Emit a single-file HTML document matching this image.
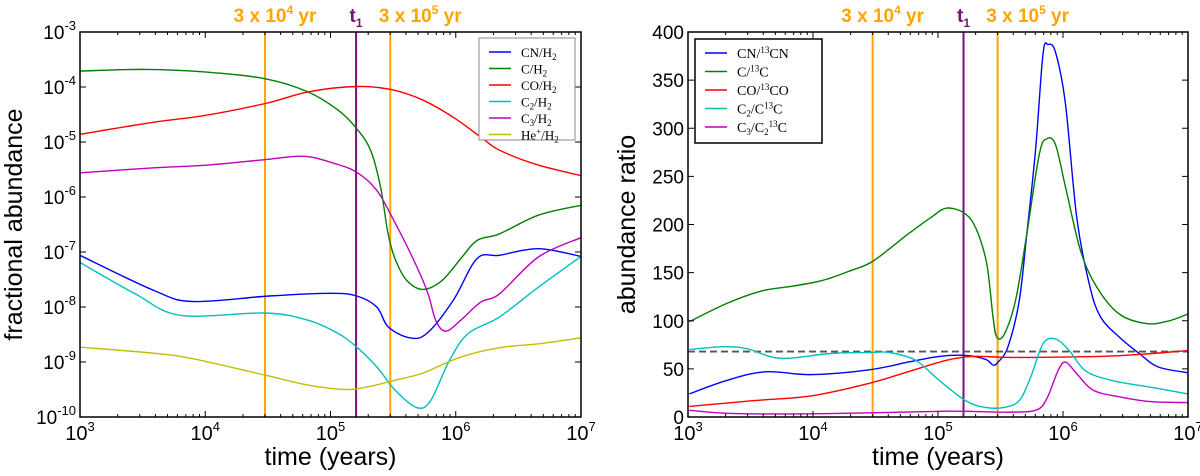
<!DOCTYPE html>
<html><head><meta charset="utf-8"><style>
body{margin:0;background:#fff;}
svg text{font-family:"Liberation Sans",sans-serif;}
.ser{font-family:"Liberation Serif",serif;}
</style></head><body>
<svg id="c" width="1200" height="471" xmlns="http://www.w3.org/2000/svg"></svg>
<script>
// ---- LEFT panel data (log10 time, log10 abundance)
const cnT=[3,3.59,3.9,4.51,5,5.21,5.37,5.46,5.63,5.77,5.98,6.17,6.35,6.66,7];
const cnV=[-7.06,-7.7,-7.9,-7.8,-7.75,-7.8,-8.0,-8.36,-8.56,-8.48,-7.88,-7.12,-7.06,-6.94,-7.08];
const cT=[3,3.53,4.02,4.48,4.82,5.06,5.21,5.32,5.40,5.46,5.52,5.61,5.74,5.89,6.04,6.17,6.35,6.66,7];
const cV=[-3.71,-3.68,-3.73,-3.85,-4.09,-4.42,-4.76,-5.15,-5.82,-6.67,-7.15,-7.52,-7.68,-7.52,-7.12,-6.79,-6.67,-6.33,-6.15];
const coT=[3,3.59,3.99,4.48,4.82,5.21,5.49,5.74,5.98,6.2,6.35,6.66,7];
const coV=[-4.86,-4.64,-4.52,-4.30,-4.09,-3.99,-4.05,-4.24,-4.55,-4.91,-5.15,-5.42,-5.61];
const c2T=[3,3.44,3.8,4.48,4.82,5.06,5.21,5.37,5.52,5.69,5.8,5.95,6.1,6.35,6.66,7];
const c2V=[-7.19,-7.76,-8.15,-8.11,-8.24,-8.48,-8.73,-9.09,-9.52,-9.83,-9.70,-8.97,-8.48,-8.18,-7.64,-7.08];
const c3T=[3,3.59,4.02,4.48,4.79,5.03,5.21,5.37,5.49,5.64,5.77,5.84,5.92,6.04,6.2,6.35,6.66,7];
const c3V=[-5.56,-5.47,-5.42,-5.32,-5.26,-5.39,-5.55,-5.88,-6.36,-7.03,-7.70,-8.24,-8.44,-8.24,-7.91,-7.76,-7.09,-6.74];
const heT=[3,3.59,3.9,4.48,4.82,5.12,5.3,5.52,5.74,6.04,6.35,6.66,7];
const heV=[-8.73,-8.84,-8.94,-9.24,-9.42,-9.50,-9.45,-9.33,-9.20,-8.91,-8.74,-8.67,-8.56];
// ---- RIGHT panel data (log10 time, ratio)
const rcnT=[3.01,3.31,3.62,3.99,4.45,4.76,5.01,5.22,5.38,5.44,5.48,5.56,5.65,5.71,5.78,5.84,5.88,5.94,6.02,6.11,6.21,6.30,6.45,6.61,6.76,7];
const rcnV=[24,38,47,44,49,57,63,64,60,54,57,73,121,190,277,377,387,379,325,207,138,104,83,66,52,46];
const rcT=[3.01,3.31,3.59,3.84,4.08,4.3,4.48,4.76,4.94,5.07,5.22,5.31,5.39,5.44,5.47,5.53,5.62,5.71,5.81,5.87,5.94,6.02,6.14,6.27,6.45,6.67,6.85,7];
const rcV=[99,118,131,136,142,152,162,190,207,217,211,194,159,104,83,86,121,190,273,289,283,239,173,135,107,97,100,107];
const rcoT=[3.01,3.53,3.99,4.45,4.76,5.07,5.28,5.53,5.84,6.30,6.61,7];
const rcoV=[11,17,22,35,47,59,63,62,62,63,65,69];
const rc2T=[3.01,3.28,3.47,3.74,4.14,4.45,4.61,4.82,5.01,5.22,5.38,5.53,5.65,5.74,5.84,5.94,6.05,6.18,6.39,6.70,7];
const rc2V=[70,73,71,61,66,67,67,59,38,17,10,10,17,41,76,81,69,48,38,31,24];
const rc3T=[3.01,3.38,4.14,5.07,5.53,5.78,5.87,5.96,6.02,6.11,6.24,6.45,6.70,7];
const rc3V=[7,3.5,3.5,6,5,7,19,48,57,45,28,21,16,15];
const refRatio=68;
const markerT=[Math.log10(3e4),Math.log10(1.6e5),Math.log10(3e5)];

const NS="http://www.w3.org/2000/svg";
const svg=document.getElementById('c');
function mk(tag,attrs,parent,name,inter){const e=document.createElementNS(NS,tag);for(const k in attrs)e.setAttribute(k,attrs[k]);


(parent||svg).appendChild(e);return e;}
function smooth(pts){let d='M'+pts[0][0].toFixed(1)+','+pts[0][1].toFixed(1);
for(let i=0;i<pts.length-1;i++){const p0=pts[Math.max(0,i-1)],p1=pts[i],p2=pts[i+1],p3=pts[Math.min(pts.length-1,i+2)];
const c1=[p1[0]+(p2[0]-p0[0])/6,p1[1]+(p2[1]-p0[1])/6],c2=[p2[0]-(p3[0]-p1[0])/6,p2[1]-(p3[1]-p1[1])/6];
d+='C'+c1[0].toFixed(1)+','+c1[1].toFixed(1)+' '+c2[0].toFixed(1)+','+c2[1].toFixed(1)+' '+p2[0].toFixed(1)+','+p2[1].toFixed(1);}return d;}

function panel(P){
  const g=mk('g',{},svg,P.name,false);
  const X=t=>P.x0+(t-3)/4*(P.x1-P.x0);
  const Y=P.Y;
  // clip
  const cid=P.name+'-clip';
  const cp=mk('clipPath',{id:cid},g,P.name+'-clip',false);
  mk('rect',{x:P.x0,y:P.y0,width:P.x1-P.x0,height:P.y1-P.y0},cp,'clip-rect',false);
  const plot=mk('g',{'clip-path':'url(#'+cid+')'},g,'plot-area',false);
  // markers
  const mcol=['#ffa500','#7b0f7b','#ffa500'];
  markerT.forEach((t,i)=>{mk('line',{x1:X(t),x2:X(t),y1:P.y0,y2:P.y1,stroke:mcol[i],'stroke-width':2},plot,i==1?'t1-line':'time-marker-line',false);});
  if(P.ref!==undefined){mk('line',{x1:P.x0,x2:P.x1,y1:Y(P.ref),y2:Y(P.ref),stroke:'#555','stroke-width':1.8,'stroke-dasharray':'7,4'},plot,'reference-ratio-line',false);}
  P.series.forEach(s=>{const pts=s.t.map((t,i)=>[X(t),Y(s.v[i])]);
    mk('path',{d:smooth(pts),fill:'none',stroke:s.c,'stroke-width':1.4},plot,s.n,false);});
  // frame
  mk('rect',{x:P.x0,y:P.y0,width:P.x1-P.x0,height:P.y1-P.y0,fill:'none',stroke:'#000','stroke-width':1.5},g,'axes-frame',false);
  // x ticks
  for(let k=3;k<=7;k++){const x=X(k);
    mk('line',{x1:x,x2:x,y1:P.y1,y2:P.y1-6,stroke:'#000'},g,'x-tick',false);
    mk('line',{x1:x,x2:x,y1:P.y0,y2:P.y0+6,stroke:'#000'},g,'x-tick',false);
    const tx=mk('text',{x:x,y:P.y1+23,'text-anchor':'middle','font-size':20},g,'x-tick-label',false);
    tx.innerHTML='10<tspan dy="-9" font-size="13">'+k+'</tspan>';
    if(k<7)for(let m=2;m<10;m++){const xm=X(k+Math.log10(m));
      mk('line',{x1:xm,x2:xm,y1:P.y1,y2:P.y1-3,stroke:'#000'},g,'x-minor-tick',false);
      mk('line',{x1:xm,x2:xm,y1:P.y0,y2:P.y0+3,stroke:'#000'},g,'x-minor-tick',false);}
  }
  P.yt.forEach(v=>{const y=Y(v);
    mk('line',{x1:P.x0,x2:P.x0+6,y1:y,y2:y,stroke:'#000'},g,'y-tick',false);
    mk('line',{x1:P.x1,x2:P.x1-6,y1:y,y2:y,stroke:'#000'},g,'y-tick',false);
    const tx=mk('text',{x:P.x0-4,y:y+7,'text-anchor':'end','font-size':19},g,'y-tick-label',false);
    tx.innerHTML=P.ylab(v);});
  const xl=mk('text',{x:(P.x0+P.x1)/2,y:465,'text-anchor':'middle','font-size':25},g,'x-axis-title',false);xl.textContent='time (years)';
  const yl=mk('text',{x:0,y:0,'text-anchor':'middle','font-size':25,transform:'translate('+P.ylx+','+((P.y0+P.y1)/2)+') rotate(-90)'},g,'y-axis-title',false);yl.textContent=P.ytitle;
  // top annotations
  const a1=mk('text',{x:X(markerT[0])+10,y:22,'text-anchor':'middle','font-size':19,'font-weight':'bold',fill:'#ffa500'},g,'annotation-3e4-yr',false);
  a1.innerHTML='3 x 10<tspan dy="-8" font-size="12">4</tspan><tspan dy="8"> yr</tspan>';
  const a2=mk('text',{x:X(markerT[1]),y:22,'text-anchor':'middle','font-size':19,'font-weight':'bold',fill:'#7b0f7b'},g,'annotation-t1',false);
  a2.innerHTML='t<tspan dy="5" font-size="12">1</tspan>';
  const a3=mk('text',{x:X(markerT[2])+30,y:22,'text-anchor':'middle','font-size':19,'font-weight':'bold',fill:'#ffa500'},g,'annotation-3e5-yr',false);
  a3.innerHTML='3 x 10<tspan dy="-8" font-size="12">5</tspan><tspan dy="8"> yr</tspan>';
  // legend
  const L=P.leg;const lg=mk('g',{},g,'legend',false);
  mk('rect',{x:L.x,y:L.y,width:L.w,height:L.h,fill:'#fff',stroke:L.bc,'stroke-width':L.bw},lg,'legend-box',false);
  P.series.forEach((s,i)=>{const y=L.y+14+i*L.dy;
    const e=mk('g',{},lg,'legend-entry',false);
    mk('line',{x1:L.x+10,x2:L.x+32,y1:y,y2:y,stroke:s.c,'stroke-width':1.6},e,'legend-swatch',false);
    const t=mk('text',{x:L.x+42,y:y+5,'font-size':L.fs,'class':'ser'},e,'legend-label',false);t.innerHTML=s.lab;});
}

const yL0=32,yL1=417;
panel({name:'left-panel',x0:80,x1:581,y0:yL0,y1:yL1,
  Y:v=>yL0+(-3-v)/7*(yL1-yL0),yt:[-3,-4,-5,-6,-7,-8,-9,-10],
  ylab:v=>'10<tspan dy="-9" font-size="13">'+v+'</tspan>',ylx:22,ytitle:'fractional abundance',
  leg:{x:479,y:38,w:96,h:102,dy:16.5,fs:13,bc:'#888',bw:1},
  series:[{t:cnT,v:cnV,c:'#0000ff',n:'cn-h2-line',lab:'CN/H<tspan dy="3" font-size="9">2</tspan>'},
    {t:cT,v:cV,c:'#008000',n:'c-h2-line',lab:'C/H<tspan dy="3" font-size="9">2</tspan>'},
    {t:coT,v:coV,c:'#ff0000',n:'co-h2-line',lab:'CO/H<tspan dy="3" font-size="9">2</tspan>'},
    {t:c2T,v:c2V,c:'#00bfbf',n:'c2-h2-line',lab:'C<tspan dy="3" font-size="9">2</tspan><tspan dy="-3">/H</tspan><tspan dy="3" font-size="9">2</tspan>'},
    {t:c3T,v:c3V,c:'#bf00bf',n:'c3-h2-line',lab:'C<tspan dy="3" font-size="9">3</tspan><tspan dy="-3">/H</tspan><tspan dy="3" font-size="9">2</tspan>'},
    {t:heT,v:heV,c:'#bfbf00',n:'he-plus-h2-line',lab:'He<tspan dy="-5" font-size="9">+</tspan><tspan dy="5">/H</tspan><tspan dy="3" font-size="9">2</tspan>'}]});
panel({name:'right-panel',x0:688,x1:1188,y0:yL0,y1:yL1,ref:refRatio,
  Y:v=>yL1-v/400*(yL1-yL0),yt:[0,50,100,150,200,250,300,350,400],
  ylab:v=>''+v,ylx:635,ytitle:'abundance ratio',
  leg:{x:695,y:39,w:127,h:104,dy:18.5,fs:14,bc:'#000',bw:1.5},
  series:[{t:rcnT,v:rcnV,c:'#0000ff',n:'cn-13cn-line',lab:'CN/<tspan dy="-5" font-size="9">13</tspan><tspan dy="5">CN</tspan>'},
    {t:rcT,v:rcV,c:'#008000',n:'c-13c-line',lab:'C/<tspan dy="-5" font-size="9">13</tspan><tspan dy="5">C</tspan>'},
    {t:rcoT,v:rcoV,c:'#ff0000',n:'co-13co-line',lab:'CO/<tspan dy="-5" font-size="9">13</tspan><tspan dy="5">CO</tspan>'},
    {t:rc2T,v:rc2V,c:'#00bfbf',n:'c2-c13c-line',lab:'C<tspan dy="3" font-size="9">2</tspan><tspan dy="-3">/C</tspan><tspan dy="-5" font-size="9">13</tspan><tspan dy="5">C</tspan>'},
    {t:rc3T,v:rc3V,c:'#bf00bf',n:'c3-c2-13c-line',lab:'C<tspan dy="3" font-size="9">3</tspan><tspan dy="-3">/C</tspan><tspan dy="3" font-size="9">2</tspan><tspan dy="-8" font-size="9">13</tspan><tspan dy="5">C</tspan>'}]});
</script>
</body></html>
